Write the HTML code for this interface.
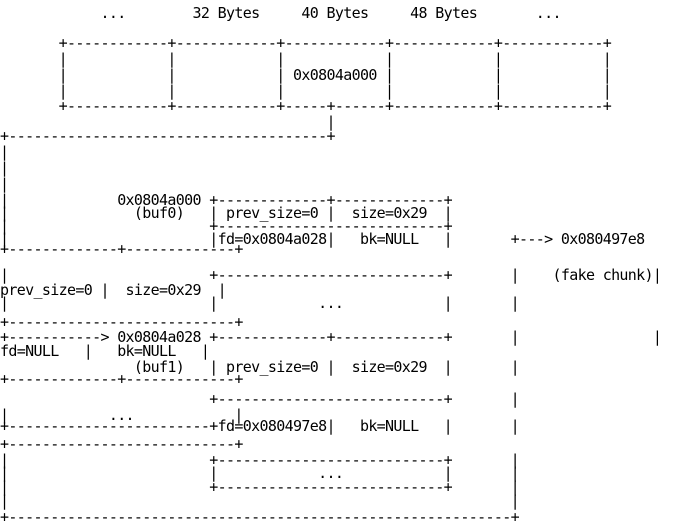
<!DOCTYPE html>
<html><head><meta charset="utf-8"><style>
html,body{margin:0;padding:0;background:#fff;width:680px;height:528px;overflow:hidden}
.l{position:absolute;left:0;margin:0;white-space:pre;font-family:"DejaVu Sans Mono","Liberation Mono",monospace;font-size:15px;letter-spacing:-0.66px;line-height:16px;color:#000}
</style></head><body>
<pre class="l" style="top:5px">            ...        32 Bytes     40 Bytes     48 Bytes       ...</pre>
<pre class="l" style="top:35px">       +------------+------------+------------+------------+------------+</pre>
<pre class="l" style="top:51px">       |            |            |            |            |            |</pre>
<pre class="l" style="top:67px">       |            |            | 0x0804a000 |            |            |</pre>
<pre class="l" style="top:83px">       |            |            |            |            |            |</pre>
<pre class="l" style="top:98px">       +------------+------------+-----+------+------------+------------+</pre>
<pre class="l" style="top:114px">                                       |</pre>
<pre class="l" style="top:128px">+--------------------------------------+</pre>
<pre class="l" style="top:144px">|</pre>
<pre class="l" style="top:160px">|</pre>
<pre class="l" style="top:176px">|</pre>
<pre class="l" style="top:192px">|             0x0804a000 +-------------+-------------+</pre>
<pre class="l" style="top:205px">|               (buf0)   | prev_size=0 |  size=0x29  |</pre>
<pre class="l" style="top:218px">|                        +---------------------------+</pre>
<pre class="l" style="top:231px">|                        |fd=0x0804a028|   bk=NULL   |       +---> 0x080497e8</pre>
<pre class="l" style="top:241px">+-------------+-------------+</pre>
<pre class="l" style="top:267px">|                        +---------------------------+       |    (fake chunk)|</pre>
<pre class="l" style="top:282px">prev_size=0 |  size=0x29  |</pre>
<pre class="l" style="top:295px">|                        |            ...            |       |</pre>
<pre class="l" style="top:314px">+---------------------------+</pre>
<pre class="l" style="top:329px">+-----------> 0x0804a028 +-------------+-------------+       |                |</pre>
<pre class="l" style="top:343px">fd=NULL   |   bk=NULL   |</pre>
<pre class="l" style="top:359px">                (buf1)   | prev_size=0 |  size=0x29  |       |</pre>
<pre class="l" style="top:371px">+-------------+-------------+</pre>
<pre class="l" style="top:391px">                         +---------------------------+       |</pre>
<pre class="l" style="top:407px">|            ...            |</pre>
<pre class="l" style="top:418px">+------------------------+fd=0x080497e8|   bk=NULL   |       |</pre>
<pre class="l" style="top:436px">+---------------------------+</pre>
<pre class="l" style="top:452px">|                        +---------------------------+       |</pre>
<pre class="l" style="top:465px">|                        |            ...            |       |</pre>
<pre class="l" style="top:479px">|                        +---------------------------+       |</pre>
<pre class="l" style="top:493px">|                                                            |</pre>
<pre class="l" style="top:509px">+------------------------------------------------------------+</pre>
</body></html>
